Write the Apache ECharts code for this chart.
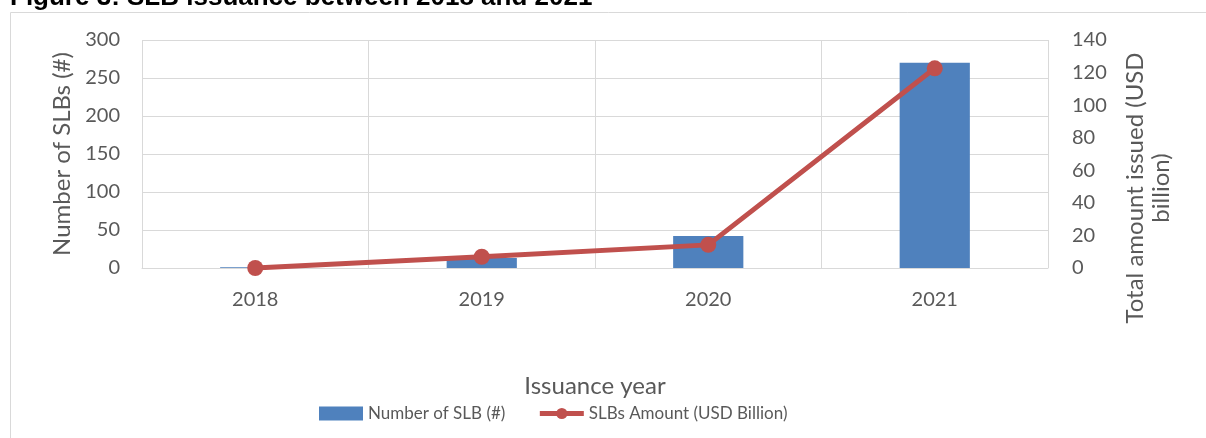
<!DOCTYPE html>
<html>
<head>
<meta charset="utf-8">
<script src="https://cdn.jsdelivr.net/npm/echarts@6/dist/echarts.min.js"></script>
<style>
  html, body { margin: 0; padding: 0; background: #fff; }
  #main { width: 1206px; height: 438px; }
</style>
</head>
<body>
<div id="main"></div>
<script>
const years = ['2018', '2019', '2020', '2021'];
const slbCount = [1, 13, 42, 270];
const slbAmount = [0, 6.9, 14.2, 122.6];
const leftTicks = [0, 300, 50];
const rightTicks = [0, 140, 20];

const font = 'Lato, "Open Sans", sans-serif';
const grey = '#595959';

const chart = echarts.init(document.getElementById('main'));
chart.setOption({
  animation: false,
  textStyle: { fontFamily: font },
  graphic: [
    {
      type: 'rect',
      shape: { x: 10.5, y: 12.5, width: 1210, height: 440 },
      style: { fill: 'none', stroke: '#d9d9d9', lineWidth: 1 }
    },
    {
      type: 'text',
      left: 10, top: -15,
      style: {
        text: 'Figure 3: SLB issuance between 2018 and 2021',
        font: 'bold 26px "Liberation Sans", Arial, sans-serif',
        fill: '#000'
      }
    },
    {
      type: 'text',
      x: 1148, y: 188,
      rotation: Math.PI / 2,
      style: {
        text: 'Total amount issued (USD\nbillion)',
        font: '24px ' + font,
        fill: grey,
        align: 'center',
        verticalAlign: 'middle',
        lineHeight: 26
      }
    }
  ],
  grid: { left: 142, right: 158, top: 40, bottom: 170 },
  legend: {
    left: 314, top: 400,
    itemWidth: 44, itemHeight: 14, itemGap: 32,
    textStyle: { fontSize: 17, color: grey, fontFamily: font },
    data: [
      { name: 'Number of SLB (#)', icon: 'rect' },
      {
        name: 'SLBs Amount (USD Billion)',
        lineStyle: { width: 5, color: '#C0504D' },
        itemStyle: { color: '#C0504D' }
      }
    ]
  },
  xAxis: {
    type: 'category',
    data: years,
    name: 'Issuance year',
    nameLocation: 'middle',
    nameGap: 106,
    nameTextStyle: { fontSize: 24, color: grey },
    axisLine: { lineStyle: { color: '#d9d9d9' } },
    axisTick: { show: false },
    axisLabel: { fontSize: 20, color: grey, margin: 22 },
    splitLine: { show: true, lineStyle: { color: '#d9d9d9' } }
  },
  yAxis: [
    {
      type: 'value',
      min: leftTicks[0], max: leftTicks[1], interval: leftTicks[2],
      name: 'Number of SLBs (#)',
      nameLocation: 'middle',
      nameGap: 68,
      nameTextStyle: { fontSize: 24, color: grey },
      axisLine: { show: false },
      axisTick: { show: false },
      axisLabel: { fontSize: 20, color: grey, margin: 22 },
      splitLine: { lineStyle: { color: '#d9d9d9' } }
    },
    {
      type: 'value',
      min: rightTicks[0], max: rightTicks[1], interval: rightTicks[2],
      position: 'right',
      axisLine: { show: false },
      axisTick: { show: false },
      axisLabel: { fontSize: 20, color: grey, margin: 24 },
      splitLine: { show: false }
    }
  ],
  series: [
    {
      name: 'Number of SLB (#)',
      type: 'bar',
      data: slbCount,
      barWidth: '31%',
      itemStyle: { color: '#4F81BD' }
    },
    {
      name: 'SLBs Amount (USD Billion)',
      type: 'line',
      yAxisIndex: 1,
      data: slbAmount,
      symbol: 'circle',
      symbolSize: 16,
      lineStyle: { color: '#C0504D', width: 5 },
      itemStyle: { color: '#C0504D' }
    }
  ]
});
</script>
</body>
</html>
